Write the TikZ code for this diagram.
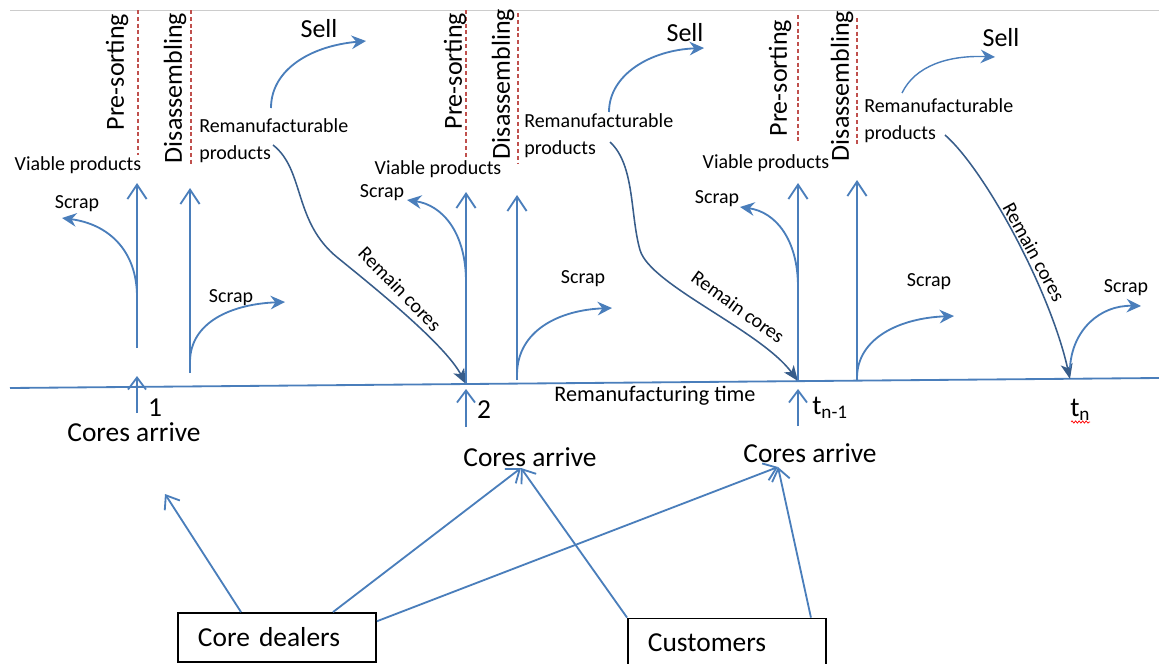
\documentclass[tikz,border=0pt]{standalone}
\usepackage{fontspec}
\setmainfont{Carlito}
\usetikzlibrary{calc}
\usetikzlibrary{positioning}
\usetikzlibrary{arrows.meta,decorations.pathmorphing}
\definecolor{flowblue}{RGB}{74,126,187}
\definecolor{coreblue}{RGB}{56,93,138}
\definecolor{stagered}{RGB}{192,80,77}
\tikzset{
	flow/.style={draw=flowblue, line width=1.3pt, -{Straight Barb[length=0.36cm, width=0.48cm]}},
	arrive/.style={draw=flowblue, line width=1.3pt, -{Straight Barb[length=0.3cm, width=0.45cm]}},
	branch/.style={draw=flowblue, line width=1.3pt, -{Stealth[length=0.36cm, width=0.34cm, inset=0.12cm]}},
	remain/.style={draw=coreblue, line width=1.1pt, -{Stealth[length=0.38cm, width=0.3cm, inset=0.1cm]}},
	stage/.style={draw=stagered, line width=0.9pt, dash pattern=on 0.1cm off 0.07cm},
	smalltext/.style={inner sep=0pt, font=\fontsize{14.2}{19}\selectfont},
	midtext/.style={inner sep=0pt, font=\fontsize{15.8}{19}\selectfont},
	bigtext/.style={inner sep=0pt, font=\fontsize{18.5}{22}\selectfont},
	hugetext/.style={inner sep=0pt, font=\fontsize{19.5}{23}\selectfont},
	source/.style={
		rectangle,
		draw=black, line width=1.3pt,
		minimum width=4.95cm,
		minimum height=1.225cm,
		inner xsep=0.5cm,
		text width=3.95cm,
		align=left,
		font=\fontsize{19.5}{23}\selectfont},
}

\begin{document}
\begin{tikzpicture}[x=0.025cm, y=-0.025cm]
	\useasboundingbox (0,0) rectangle (1159,664);
	\draw[gray!40, line width=0.6pt] (10,10) -- (1159,10);
	% time axis
	\coordinate (tStart) at (10,388);
	\coordinate (tEnd) at (1159,378);
	\draw[flowblue, line width=1.3pt] (tStart) -- (tEnd);
	\coordinate (tOne) at (137,387);
	\coordinate (tTwo) at (466,384);
	\coordinate (tThree) at (798,381);
	\coordinate (tLast) at (1070,379);
	\node[midtext] (axis) at (655,396) {Remanufacturing time};

	% first period
	\draw[stage] (138,10) -- (138,155);
	\draw[stage] (191,10) -- (191,165);
	\node[bigtext, rotate=90] (sortOne) at (117,72) {Pre-sorting};
	\node[bigtext, rotate=90] (disOne) at (175,88) {Disassembling};
	\node[smalltext] (viaOne) at (78,165) {Viable products};
	\node[smalltext] (scrapOneA) at (77,204) {Scrap};
	\node[smalltext] (scrapOneB) at (231,298) {Scrap};
	\node[smalltext, anchor=west, align=left] (remOne) at (199,141) {Remanufacturable\\products};
	\node[bigtext] (sellOne) at (319,29) {Sell};
	\draw[flow] (137,348) -- (137,183);
	\draw[branch] (137,297) .. controls (137,250) and (108,224) .. (62,218);
	\draw[flow] (190,373) -- (190,188);
	\draw[branch] (190,362) .. controls (190,322) and (232,304) .. (285,302);
	\draw[branch] (271,108) .. controls (271,70) and (310,46) .. (366,41);
	\draw[remain] (273,145) .. controls (305,170) and (293,222) .. (338,258) .. controls (380,292) and (445,345) .. (tTwo);
	\node[smalltext, rotate=-45.7] (coresOne) at (400,289) {Remain cores};
	\draw[arrive] ($(tOne)+(0,26)$) -- ($(tOne)+(0,-11)$);
	\node[hugetext] (numOne) at (155,408) {1};
	\node[hugetext] (arrOne) at (134,432) {Cores arrive};

	% second period
	\draw[stage] (466,10) -- (466,157);
	\draw[stage] (518,13) -- (518,163);
	\node[bigtext, rotate=90] (sortTwo) at (455,71) {Pre-sorting};
	\node[bigtext, rotate=90] (disTwo) at (503,84) {Disassembling};
	\node[smalltext] (viaTwo) at (438,169) {Viable products};
	\node[smalltext] (scrapTwoA) at (382,193) {Scrap};
	\node[smalltext] (scrapTwoB) at (583,279) {Scrap};
	\node[smalltext, anchor=west, align=left] (remTwo) at (524,136) {Remanufacturable\\products};
	\node[bigtext] (sellTwo) at (685,33) {Sell};
	\draw[flow] (tTwo) -- (466,192);
	\draw[branch] (466,282) .. controls (466,232) and (442,205) .. (407,200);
	\draw[flow] (517,380) -- (517,195);
	\draw[branch] (517,375) .. controls (517,330) and (560,310) .. (612,308);
	\draw[branch] (609,112) .. controls (609,75) and (650,50) .. (704,48);
	\draw[remain] (610,142) .. controls (635,165) and (630,215) .. (640,250) .. controls (650,285) and (760,330) .. (tThree);
	\node[smalltext, rotate=-35.8] (coresTwo) at (738,307) {Remain cores};
	\draw[arrive] ($(tTwo)+(0,43)$) -- ($(tTwo)+(0,5)$);
	\node[hugetext] (numTwo) at (484,410) {2};
	\node[hugetext] (arrTwo) at (530,457) {Cores arrive};

	% third period
	\draw[stage] (798,15) -- (798,143);
	\draw[stage] (857,18) -- (857,146);
	\node[bigtext, rotate=90] (sortThree) at (780,78) {Pre-sorting};
	\node[bigtext, rotate=90] (disThree) at (842,86) {Disassembling};
	\node[smalltext] (viaThree) at (766,163) {Viable products};
	\node[smalltext] (scrapThreeA) at (717,199) {Scrap};
	\node[smalltext] (scrapThreeB) at (929,282) {Scrap};
	\node[smalltext, anchor=west, align=left] (remThree) at (864,121) {Remanufacturable\\products};
	\node[bigtext] (sellThree) at (1001,38) {Sell};
	\draw[flow] (tThree) -- (798,183);
	\draw[branch] (798,287) .. controls (798,240) and (776,212) .. (740,207);
	\draw[flow] (857,380) -- (857,180);
	\draw[branch] (857,378) .. controls (857,338) and (900,318) .. (954,316);
	\draw[branch, line width=1pt] (902,93) .. controls (915,66) and (948,55) .. (995,57);
	\draw[remain] (945,135) .. controls (985,170) and (1050,290) .. (tLast);
	\node[smalltext, rotate=-61.4] (coresThree) at (1034,252) {Remain cores};
	\draw[arrive] ($(tThree)+(0,45)$) -- ($(tThree)+(0,8)$);
	\node[hugetext, anchor=west] (numThree) at (812,408) {t\textsubscript{n-1}};
	\node[hugetext] (arrThree) at (810,453) {Cores arrive};

	% last period
	\draw[branch] (1070,368) .. controls (1072,330) and (1100,305) .. (1141,306);
	\node[smalltext] (scrapLast) at (1126,288) {Scrap};
	\node[hugetext, anchor=west] (numLast) at (1070,410) {t\textsubscript{n}};
	\draw[red, line width=0.5pt, decorate, decoration={snake, amplitude=0.8pt, segment length=2.5pt}] (1071,422) -- (1090,422);

	% suppliers
	\node[source] (dealers) at (277,637.5) {Core dealers};
	\node[source] (customers) at (727,643) {Customers};
	\coordinate (inOne) at (165,494);
	\coordinate (inTwo) at (521,468);
	\coordinate (inThree) at (778,467);
	\draw[arrive] ($(dealers.north west)!0.32!(dealers.north east)$) -- (inOne);
	\draw[arrive] ($(dealers.north west)!0.78!(dealers.north east)$) -- (inTwo);
	\draw[arrive] ($(dealers.north east)!0.18!(dealers.south east)$) -- (inThree);
	\draw[arrive] (customers.north west) -- (inTwo);
	\draw[arrive] ($(customers.north west)!0.92!(customers.north east)$) -- (inThree);
\end{tikzpicture}
\end{document}
